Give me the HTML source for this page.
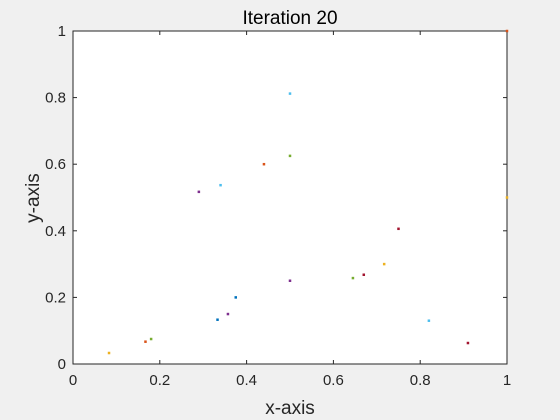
<!DOCTYPE html>
<html><head><meta charset="utf-8"><style>
html,body{margin:0;padding:0;background:#f0f0f0;}
svg{display:block;font-family:"Liberation Sans",sans-serif;}
</style></head><body>
<svg id="chart" width="560" height="420">
<rect x="0" y="0" width="560" height="420" fill="#f0f0f0"/>
<rect x="73" y="31" width="434" height="333" fill="#fff" stroke="#262626" stroke-width="1"/>
<text x="290" y="24" text-anchor="middle" font-size="19" fill="#000">Iteration 20</text>
<text x="290" y="414" text-anchor="middle" font-size="19" fill="#262626">x-axis</text>
<text x="0" y="0" transform="translate(39,198) rotate(-90)" text-anchor="middle" font-size="19" fill="#262626">y-axis</text>
<g id="ticks"></g>
<g id="points"></g>
</svg>
<script>
const xs = [0.083,0.167,0.180,0.290,0.340,0.333,0.357,0.375,0.440,0.500,0.500,0.500,0.645,0.670,0.717,0.750,0.820,0.910,1.000,1.000];
const ys = [0.033,0.067,0.075,0.517,0.537,0.133,0.150,0.200,0.600,0.625,0.812,0.250,0.258,0.268,0.300,0.406,0.130,0.063,1.000,0.500];
const colors = ["#EDB120","#D95319","#77AC30","#7E2F8E","#4DBEEE","#0072BD","#7E2F8E","#0072BD","#D95319","#77AC30","#4DBEEE","#7E2F8E","#77AC30","#A2142F","#EDB120","#A2142F","#4DBEEE","#A2142F","#D95319","#EDB120"];
const tickVals = [0,0.2,0.4,0.6,0.8,1];
const tickLabels = ["0","0.2","0.4","0.6","0.8","1"];
const NS="http://www.w3.org/2000/svg";
const L=73,T=31,W=434,H=333;
function sx(v){return L+v*W;}
function sy(v){return T+H-v*H;}
const tg=document.getElementById('ticks');
tickVals.forEach((v,i)=>{
  const x=sx(v), y=sy(v);
  [[x,T+H,x,T+H-4],[x,T,x,T+4],[L,y,L+4,y],[L+W,y,L+W-4,y]].forEach(c=>{
    const l=document.createElementNS(NS,'line');
    l.setAttribute('x1',c[0]);l.setAttribute('y1',c[1]);l.setAttribute('x2',c[2]);l.setAttribute('y2',c[3]);
    l.setAttribute('stroke','#262626');
    
    
    tg.appendChild(l);
  });
  const tx=document.createElementNS(NS,'text');
  tx.setAttribute('x',x);tx.setAttribute('y',T+H+21);tx.setAttribute('text-anchor','middle');tx.setAttribute('font-size','15');tx.setAttribute('fill','#262626');
  tx.textContent=tickLabels[i];
  
  
  tg.appendChild(tx);
  const ty=document.createElementNS(NS,'text');
  ty.setAttribute('x',L-7);ty.setAttribute('y',y+5);ty.setAttribute('text-anchor','end');ty.setAttribute('font-size','15');ty.setAttribute('fill','#262626');
  ty.textContent=tickLabels[i];
  
  
  tg.appendChild(ty);
});
const pg=document.getElementById('points');
xs.forEach((xv,i)=>{
  const r=document.createElementNS(NS,'rect');
  r.setAttribute('x',sx(xv)-1.25);r.setAttribute('y',sy(ys[i])-1.25);r.setAttribute('width',2.5);r.setAttribute('height',2.5);
  r.setAttribute('fill',colors[i]);
  
  
  pg.appendChild(r);
});
</script>
</body></html>
